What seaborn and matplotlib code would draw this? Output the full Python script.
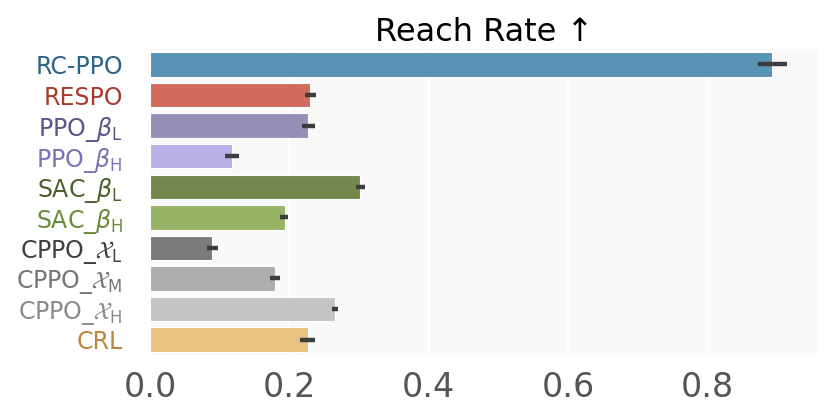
import numpy as np
import pandas as pd
import matplotlib
matplotlib.use("Agg")
import matplotlib.pyplot as plt
import seaborn as sns

# data
methods = ['RC-PPO', 'RESPO', r'PPO_$\beta_\mathrm{L}$', r'PPO_$\beta_\mathrm{H}$',
           r'SAC_$\beta_\mathrm{L}$', r'SAC_$\beta_\mathrm{H}$',
           r'CPPO_$\mathcal{X}_\mathrm{L}$', r'CPPO_$\mathcal{X}_\mathrm{M}$',
           r'CPPO_$\mathcal{X}_\mathrm{H}$', 'CRL']
reach_rate = [0.892, 0.229, 0.227, 0.117, 0.302, 0.193, 0.089, 0.179, 0.265, 0.226]
err_low = [0.873, 0.222, 0.218, 0.108, 0.295, 0.187, 0.082, 0.172, 0.261, 0.215]
err_high = [0.914, 0.238, 0.237, 0.127, 0.309, 0.198, 0.097, 0.187, 0.270, 0.237]

bar_colors = ['#5893b5', '#d36b5c', '#9690b9', '#b8b1e6', '#72884c',
              '#97b364', '#7b7b7b', '#adadad', '#c4c4c4', '#e8c280']
label_colors = ['#2a6488', '#a83b2d', '#5b5589', '#7c72b6', '#4b602b',
                '#6a8b37', '#3f3f3f', '#757575', '#8a8a8a', '#b8893c']

df = pd.DataFrame({'method': methods, 'rate': reach_rate})

sns.set_style('darkgrid', {'axes.facecolor': '#f9f9f9', 'grid.color': 'white'})
plt.rcParams['font.family'] = ['DejaVu Sans']
plt.rcParams['mathtext.fontset'] = 'dejavusans'

fig, ax = plt.subplots(figsize=(8.31, 4.17), dpi=100)
fig.subplots_adjust(left=0.1805, right=0.984, top=0.882, bottom=0.149)

sns.barplot(data=df, y='method', x='rate', hue='method', palette=bar_colors,
            legend=False, width=0.8, saturation=1, ax=ax,
            edgecolor='#ffffff', linewidth=0.8)

# error bars
xerr = np.array([[r - lo for r, lo in zip(reach_rate, err_low)],
                 [hi - r for r, hi in zip(reach_rate, err_high)]])
ax.errorbar(reach_rate, np.arange(len(methods)), xerr=xerr, fmt='none',
            ecolor='#3d3d3d', elinewidth=3.2, capsize=0, zorder=5)

ax.set_xlim(0, 0.958)
ax.set_ylim(len(methods) - 0.5, -0.5)
ax.set_xticks([0.0, 0.2, 0.4, 0.6, 0.8])
ax.set_xlabel('')
ax.set_ylabel('')
ax.grid(axis='y', visible=False)
ax.grid(axis='x', color='white', linewidth=1.5)
ax.tick_params(axis='x', labelsize=24, colors='#555555', pad=8)
ax.tick_params(axis='y', labelsize=17, pad=16)
for lab, c in zip(ax.get_yticklabels(), label_colors):
    lab.set_color(c)
for s in ax.spines.values():
    s.set_visible(False)

ax.set_title('Reach Rate ↑', fontsize=23, pad=6, color='black')

fig.savefig('out.png', dpi=100)
